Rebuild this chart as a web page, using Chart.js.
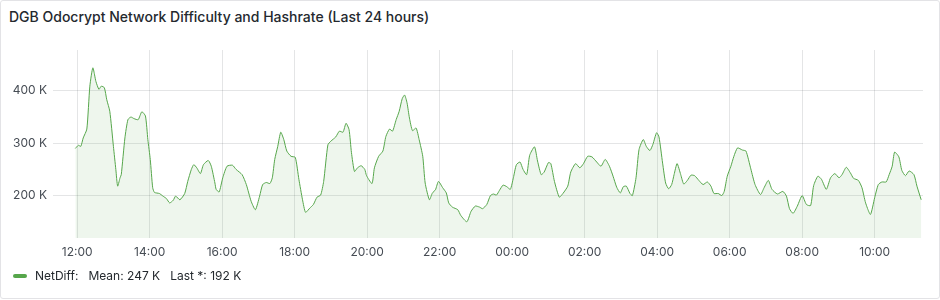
<!DOCTYPE html>
<html>
<head>
<meta charset="utf-8">
<script src="https://cdn.jsdelivr.net/npm/chart.js@4.4.1/dist/chart.umd.min.js"></script>
<style>
  html, body { margin: 0; padding: 0; background: #fff; }
  body { width: 940px; height: 300px; position: relative; overflow: hidden; font-family: Inter, "Noto Sans", sans-serif; }
  #panel { position: absolute; left: 0; top: 0; width: 938px; height: 297px; border: 1px solid #e3e3e6; border-radius: 3px; }
  #title { position: absolute; left: 9px; top: 8px; font-size: 14px; font-weight: 500; color: #24292e; white-space: nowrap; }
  #chartBox { position: absolute; left: 0; top: 0; width: 940px; height: 300px; }
  #legend { position: absolute; left: 13px; top: 268px; font-size: 12px; color: #24292e; white-space: nowrap; display: flex; align-items: center; }
  #legend .sw { display: inline-block; width: 14px; height: 4px; border-radius: 2px; background: #56A64B; margin-right: 8px; }
  #legend .gap { margin-left: 10px; }
</style>
</head>
<body>
<div id="panel"></div>
<div id="title">DGB Odocrypt Network Difficulty and Hashrate (Last 24 hours)</div>
<div id="chartBox"><canvas id="c" width="940" height="300"></canvas></div>
<div id="legend"><span class="sw"></span><span>NetDiff:</span><span class="gap">Mean: 247 K</span><span class="gap">Last *: 192 K</span></div>
<script>
// minutes relative to 12:00 (day 1)
const times = [-3,2,6,10,16,21,26,31,36,40,45,49,54,60,64,67,71,73,79,84,89,94,101,107,113,117,121,125,128,136,142,148,153,159,163,170,178,183,189,193,198,204,209,217,222,228,230,235,241,248,257,263,273,280,288,295,302,307,313,319,323,327,332,337,342,347,354,361,367,373,378,385,391,397,403,408,415,420,428,434,440,445,450,454,459,464,470,476,479,488,492,499,506,511,517,522,528,533,538,542,546,550,555,561,566,572,576,583,588,593,598,605,611,615,621,630,635,645,652,659,666,671,678,684,689,694,699,705,711,717,722,727,733,738,744,749,757,762,768,773,780,784,790,798,804,812,817,825,832,838,845,852,860,867,874,881,887,893,899,904,909,915,919,925,930,937,942,948,953,959,963,969,974,979,984,988,993,999,1004,1010,1016,1022,1029,1036,1043,1049,1054,1061,1067,1071,1076,1082,1087,1093,1101,1107,1115,1122,1131,1137,1144,1150,1159,1168,1174,1179,1185,1192,1200,1207,1214,1219,1226,1232,1240,1247,1254,1261,1266,1273,1280,1285,1293,1299,1305,1313,1320,1326,1332,1339,1344,1349,1353,1360,1365,1371,1377,1385,1390,1397];
// NetDiff values in thousands
const netDiff = [290,296,294,310,327,409,444,418,403,409,406,383,361,294,250,218,234,240,310,345,350,347,345,360,352,307,269,215,206,204,199,194,186,191,199,192,204,227,250,259,253,242,259,267,256,224,212,207,234,256,258,250,240,221,189,173,199,221,225,223,234,269,294,321,307,285,275,273,231,192,168,176,183,197,201,227,297,304,312,323,321,338,326,282,246,253,257,250,238,223,253,275,285,313,327,323,345,361,385,392,377,348,324,329,307,275,224,192,205,211,227,215,205,186,178,173,162,150,170,180,178,175,183,200,203,201,210,220,217,212,234,259,264,250,240,277,293,266,240,245,263,261,227,197,204,218,245,261,253,261,275,274,264,256,269,256,237,216,205,217,218,204,200,234,288,307,294,286,298,320,312,262,224,213,221,240,261,240,222,229,239,238,229,221,226,218,204,204,200,208,237,256,275,291,287,285,251,221,202,215,229,212,203,208,199,175,166,180,200,183,181,219,237,231,212,234,242,234,240,254,243,233,229,215,186,164,196,221,226,226,240,256,283,274,248,238,247,240,218,192];
const xTicks = [0,120,240,360,480,600,720,840,960,1080,1200,1320];
const yTicks = [200000,300000,400000];
const xRange = [-40, 1400];
const yRange = [119000, 478000];

const points = times.map((t, i) => ({ x: t, y: netDiff[i] * 1000 }));
const fmtTime = v => {
  const m = ((720 + v) % 1440 + 1440) % 1440;
  const h = Math.floor(m / 60), mm = m % 60;
  return String(h).padStart(2, '0') + ':' + String(mm).padStart(2, '0');
};
const gridColor = 'rgba(36,41,46,0.12)';
const tickColor = '#464c54';

new Chart(document.getElementById('c'), {
  type: 'line',
  data: {
    datasets: [{
      label: 'NetDiff',
      data: points,
      borderColor: '#56A64B',
      backgroundColor: 'rgba(86,166,75,0.1)',
      borderWidth: 1,
      pointRadius: 0,
      tension: 0.2,
      fill: 'start'
    }]
  },
  options: {
    responsive: false,
    animation: false,
    events: [],
    layout: { padding: { left: 0, right: 17, top: 50, bottom: 0 } },
    plugins: { legend: { display: false }, title: { display: false }, tooltip: { enabled: false } },
    scales: {
      x: {
        type: 'linear',
        min: xRange[0], max: xRange[1],
        afterBuildTicks: s => { s.ticks = xTicks.map(v => ({ value: v })); },
        afterFit: s => { s.height = 62; },
        grid: { color: gridColor, drawTicks: false, lineWidth: 1 },
        border: { display: false },
        ticks: { color: tickColor, font: { family: 'Inter', size: 12 }, padding: 7, maxRotation: 0, autoSkip: false, callback: v => fmtTime(v) }
      },
      y: {
        type: 'linear',
        min: yRange[0], max: yRange[1],
        afterBuildTicks: s => { s.ticks = yTicks.map(v => ({ value: v })); },
        afterFit: s => { s.width = 53; },
        grid: { color: gridColor, drawTicks: false, lineWidth: 1 },
        border: { display: false },
        ticks: { color: tickColor, font: { family: 'Inter', size: 12 }, padding: 6, callback: v => (v / 1000) + ' K' }
      }
    }
  }
});
</script>
</body>
</html>
